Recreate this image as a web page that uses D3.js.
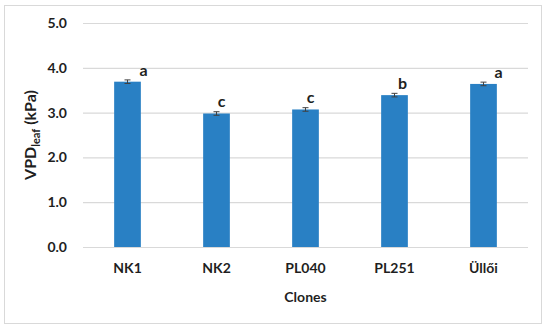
<!DOCTYPE html>
<html>
<head>
<meta charset="utf-8">
<script src="https://cdn.jsdelivr.net/npm/d3@7"></script>
<style>
	html, body { margin: 0; padding: 0; background: #fff; }
	svg text { font-family: Lato, 'Open Sans', sans-serif; font-weight: bold; fill: #1f1f1f; }
</style>
</head>
<body>
<div id="canvas"></div>
<script>
const clones = ['NK1', 'NK2', 'PL040', 'PL251', 'Üllői'];
const vpdLeaf = [3.69, 2.98, 3.07, 3.39, 3.64];
const vpdErr = [0.04, 0.04, 0.04, 0.04, 0.04];
const groupLetters = ['a', 'c', 'c', 'b', 'a'];
const yTicks = [0, 1, 2, 3, 4, 5];

// letters were nudged by hand in the original
const letterDx = [16, 5, 5, 8, 15];

const width = 550;
const height = 333;
const margins = { top: 23, right: 22, bottom: 86, left: 83 };

const svg = d3
	.select('#canvas')
	.append('svg')
	.attr('width', width)
	.attr('height', height);

svg.append('rect')
	.attr('x', 4.5)
	.attr('y', 5.5)
	.attr('width', 537)
	.attr('height', 318)
	.attr('fill', '#fff')
	.attr('stroke', '#d9d9d9');

const xScale = d3
	.scaleBand()
	.domain(clones)
	.range([margins.left, width - margins.right])
	.padding(0);

const yScale = d3
	.scaleLinear()
	.domain([0, 5])
	.range([height - margins.bottom, margins.top]);

const barW = xScale.bandwidth() * 0.3;

const yAxis = svg
	.append('g')
	.attr('transform', `translate(${margins.left},0)`)
	.call(
		d3
			.axisLeft(yScale)
			.tickValues(yTicks)
			.tickFormat(d3.format('.1f'))
			.tickSize(margins.left + margins.right - width)
			.tickPadding(16)
	);
yAxis.select('.domain').remove();
yAxis.selectAll('.tick line').attr('stroke', '#d9d9d9').attr('stroke-width', 1.2);
yAxis.selectAll('.tick text')
	.attr('font-size', 14)
	.attr('font-family', null)
	.style('fill', '#1f1f1f');

const xAxis = svg
	.append('g')
	.attr('transform', `translate(0,${height - margins.bottom})`)
	.call(d3.axisBottom(xScale).tickSize(0).tickPadding(16));
xAxis.select('.domain').remove();
xAxis.selectAll('.tick text')
	.attr('font-size', 14)
	.attr('font-family', null)
	.style('fill', '#1f1f1f');

const bars = svg.append('g');
bars.selectAll('rect')
	.data(vpdLeaf)
	.join('rect')
	.attr('x', (d, i) => xScale(clones[i]) + xScale.bandwidth() / 2 - barW / 2)
	.attr('y', d => yScale(d))
	.attr('width', barW)
	.attr('height', d => yScale(0) - yScale(d))
	.attr('fill', '#2980c4');

const errs = svg.append('g').attr('stroke', '#404040').attr('stroke-width', 1);
vpdLeaf.forEach((d, i) => {
	const cx = xScale(clones[i]) + xScale.bandwidth() / 2;
	const y0 = yScale(d - vpdErr[i]);
	const y1 = yScale(d + vpdErr[i]);
	errs.append('line').attr('x1', cx).attr('x2', cx).attr('y1', y0).attr('y2', y1);
	errs.append('line').attr('x1', cx - 3).attr('x2', cx + 3).attr('y1', y0).attr('y2', y0);
	errs.append('line').attr('x1', cx - 3).attr('x2', cx + 3).attr('y1', y1).attr('y2', y1);
});

svg.append('g')
	.selectAll('text')
	.data(groupLetters)
	.join('text')
	.attr('x', (d, i) => xScale(clones[i]) + xScale.bandwidth() / 2 + letterDx[i])
	.attr('y', (d, i) => yScale(vpdLeaf[i]) - 6)
	.attr('text-anchor', 'middle')
	.attr('font-size', 16)
	.text(d => d);

svg.append('text')
	.attr('x', (margins.left + width - margins.right) / 2)
	.attr('y', 302)
	.attr('text-anchor', 'middle')
	.attr('font-size', 14)
	.text('Clones');

const yTitle = svg
	.append('text')
	.attr('transform', `translate(36,${(yScale(0) + yScale(5)) / 2}) rotate(-90)`)
	.attr('text-anchor', 'middle')
	.attr('font-size', 16);
yTitle.append('tspan').text('VPD');
yTitle.append('tspan').attr('font-size', 11).attr('dy', 4).text('leaf');
yTitle.append('tspan').attr('dy', -4).text(' (kPa)');
</script>
</body>
</html>
